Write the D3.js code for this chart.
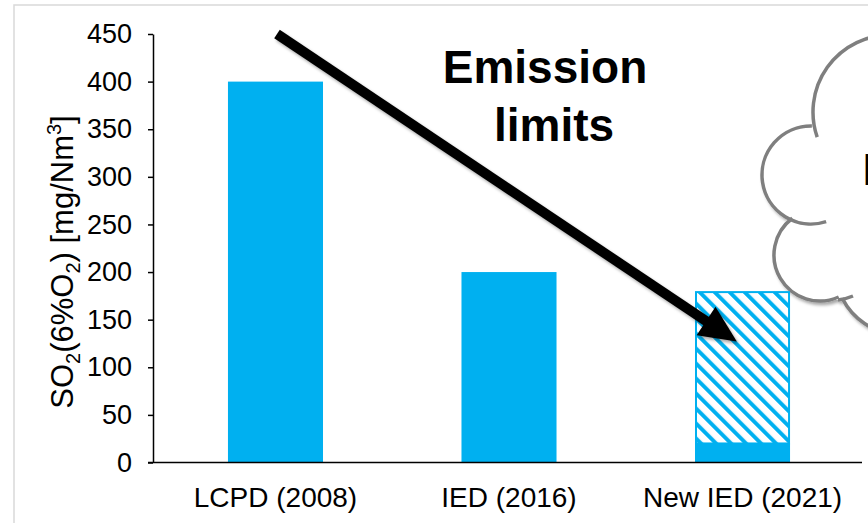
<!DOCTYPE html>
<html>
<head>
<meta charset="utf-8">
<script src="https://cdn.jsdelivr.net/npm/d3@7/dist/d3.min.js"></script>
<style>
  html, body { margin: 0; padding: 0; background: #fff; }
  svg { display: block; font-family: Arial, "Liberation Sans", sans-serif; }
</style>
</head>
<body>
<svg id="chart" width="868" height="523"></svg>
<script>
// SO2 emission limit values per regulation
const categories = ["LCPD (2008)", "IED (2016)", "New IED (2021)"];
const solidValues = [400, 200, 20];     // lower (firm) limit
const rangeValues = [0, 0, 160];        // hatched range stacked on top
const yTicks = [0, 50, 100, 150, 200, 250, 300, 350, 400, 450];

const blue = "#00B0F0";
const svg = d3.select("#chart");
const defs = svg.append("defs");

// hatch pattern for the range part
const pat = defs.append("pattern")
  .attr("id", "hatch")
  .attr("patternUnits", "userSpaceOnUse")
  .attr("width", 10.6).attr("height", 10.6)
  .attr("patternTransform", "rotate(-45)");
pat.append("rect").attr("width", 10.6).attr("height", 10.6).attr("fill", "#fff");
pat.append("rect").attr("x", 0).attr("width", 4).attr("height", 10.6).attr("fill", blue);

const shadow = defs.append("filter").attr("id", "shadow")
  .attr("x", "-20%").attr("y", "-20%").attr("width", "140%").attr("height", "140%");
shadow.append("feDropShadow").attr("dx", 2).attr("dy", 2.5)
  .attr("stdDeviation", 1.8).attr("flood-color", "#000").attr("flood-opacity", 0.35);

// outer frame of the chart area
svg.append("rect").attr("x", 14).attr("y", 5).attr("width", 900).attr("height", 600)
  .attr("fill", "none").attr("stroke", "#d9d9d9").attr("stroke-width", 1.5);

const x = d3.scaleBand().domain(categories).range([153, 865])
  .paddingInner(0.593).paddingOuter(0.321);
const y = d3.scaleLinear().domain([0, 450]).range([462.5, 34]);

// thought-bubble cloud at the right
const cloud = svg.append("g").attr("filter", "url(#shadow)");
const lobes = [
  { cx: 890, cy: 112, r: 77, a0: 270, a1: 161 },
  { cx: 811, cy: 175, r: 49, a0: 271, a1: 72 },
  { cx: 820, cy: 255, r: 46, a0: 233, a1: 66 },
  { cx: 902, cy: 268, r: 67, a0: 153, a1: 95 }
];
const rad = d => d * Math.PI / 180;
cloud.selectAll("circle.fill").data(lobes).join("circle")
  .attr("class", "fill").attr("cx", d => d.cx).attr("cy", d => d.cy).attr("r", d => d.r - 1)
  .attr("fill", "#fff");
cloud.append("rect").attr("x", 830).attr("y", 100).attr("width", 60).attr("height", 200).attr("fill", "#fff");
cloud.selectAll("path.lobe").data(lobes).join("path")
  .attr("class", "lobe")
  .attr("d", d => {
    const p = d3.path();
    p.arc(d.cx, d.cy, d.r, rad(d.a0), rad(d.a1), true);
    return p.toString();
  })
  .attr("fill", "none").attr("stroke", "#7f7f7f").attr("stroke-width", 3.5);
// small tail where the lower lobe meets the bottom one
cloud.append("path").attr("d", "M838,300 Q846,299 853,296")
  .attr("fill", "none").attr("stroke", "#7f7f7f").attr("stroke-width", 3.5);
svg.append("text").attr("x", 862).attr("y", 185).attr("font-size", 44)
  .attr("fill", "#000").text("BAT");

// bars
const g = svg.append("g");
g.selectAll("rect.solid").data(categories).join("rect")
  .attr("class", "solid")
  .attr("x", d => x(d)).attr("width", x.bandwidth())
  .attr("y", (d, i) => y(solidValues[i]))
  .attr("height", (d, i) => y(0) - y(solidValues[i]))
  .attr("fill", blue);
g.selectAll("rect.range").data(categories.filter((d, i) => rangeValues[i] > 0)).join("rect")
  .attr("class", "range")
  .attr("x", d => x(d) + 1).attr("width", x.bandwidth() - 2)
  .attr("y", d => { const i = categories.indexOf(d); return y(solidValues[i] + rangeValues[i]) + 1; })
  .attr("height", d => { const i = categories.indexOf(d); return y(solidValues[i]) - y(solidValues[i] + rangeValues[i]) - 1; })
  .attr("fill", "url(#hatch)").attr("stroke", blue).attr("stroke-width", 2);

// y axis
const yAxis = svg.append("g").attr("transform", "translate(153,0)")
  .call(d3.axisLeft(y).tickValues(yTicks).tickSize(5).tickPadding(16).tickSizeOuter(0));
yAxis.select(".domain").attr("stroke", "#000").attr("stroke-width", 1.5);
yAxis.selectAll(".tick line").attr("stroke", "#000").attr("stroke-width", 1.5);
yAxis.selectAll(".tick text").attr("font-size", 27).attr("fill", "#000")
  .attr("font-family", "Arial, 'Liberation Sans', sans-serif");

// x axis
const xAxis = svg.append("g").attr("transform", `translate(0,${y(0)})`)
  .call(d3.axisBottom(x).tickSize(0).tickPadding(25).tickSizeOuter(0));
xAxis.select(".domain").attr("d", "M148,0H862").attr("stroke", "#000").attr("stroke-width", 1.5);
xAxis.selectAll(".tick text").attr("font-size", 28).attr("fill", "#000")
  .attr("font-family", "Arial, 'Liberation Sans', sans-serif");

// y axis title with sub/superscripts
const title = svg.append("text")
  .attr("transform", "translate(73,262) rotate(-90)")
  .attr("text-anchor", "middle").attr("font-size", 31).attr("fill", "#000");
title.append("tspan").text("SO");
title.append("tspan").attr("font-size", 20).attr("dy", 7).text("2");
title.append("tspan").attr("dy", -7).text("(6%O");
title.append("tspan").attr("font-size", 20).attr("dy", 7).text("2");
title.append("tspan").attr("dy", -7).text(") [mg/Nm");
title.append("tspan").attr("font-size", 20).attr("dy", -12).text("3");
title.append("tspan").attr("dy", 12).text("]");

// annotation: arrow from the first limit down to the new one
const start = [x("LCPD (2008)") + x.bandwidth() / 2 + 1.5, y(450)];
const tip = [x("New IED (2021)") + x.bandwidth() * 0.44, y(127)];
const ang = Math.atan2(tip[1] - start[1], tip[0] - start[0]);
const headLen = 37, headHalf = 17;
const base = [tip[0] - headLen * Math.cos(ang), tip[1] - headLen * Math.sin(ang)];
const nx = -Math.sin(ang), ny = Math.cos(ang);
const arrow = svg.append("g").attr("filter", "url(#shadow)");
arrow.append("line")
  .attr("x1", start[0]).attr("y1", start[1])
  .attr("x2", base[0] + 2 * Math.cos(ang)).attr("y2", base[1] + 2 * Math.sin(ang))
  .attr("stroke", "#000").attr("stroke-width", 10);
arrow.append("polygon")
  .attr("points", [
    tip,
    [base[0] + nx * headHalf, base[1] + ny * headHalf],
    [base[0] - nx * headHalf, base[1] - ny * headHalf]
  ].map(p => p.join(",")).join(" "))
  .attr("fill", "#000");

// label
const lab = svg.append("text").attr("text-anchor", "middle")
  .attr("font-size", 46).attr("font-weight", "bold").attr("fill", "#000");
lab.append("tspan").attr("x", 545).attr("y", 83).text("Emission");
lab.append("tspan").attr("x", 554).attr("y", 141).text("limits");
</script>
</body>
</html>
